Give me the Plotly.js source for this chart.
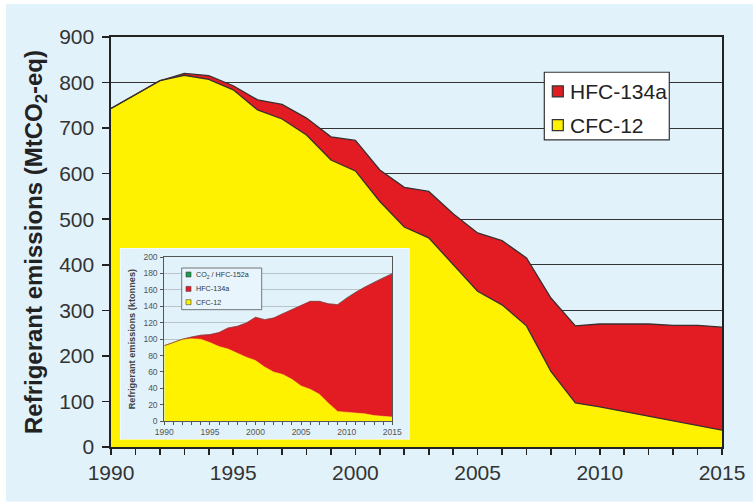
<!DOCTYPE html>
<html>
<head>
<meta charset="utf-8">
<script src="https://cdn.plot.ly/plotly-3.0.1.min.js"></script>
<style>html,body{margin:0;padding:0;background:#fff;}#chart{width:753px;height:503px;}</style>
</head>
<body>
<div id="chart"></div>
<script>
// ---------------- data ----------------
const years = [1990,1991,1992,1993,1994,1995,1996,1997,1998,1999,2000,2001,2002,2003,2004,2005,2006,2007,2008,2009,2010,2011,2012,2013,2014,2015];

// Main chart: emissions in MtCO2-eq
const cfc12Main   = [743,774,804,816,807,784,740,720,685,630,606,539,483,459,400,342,312,266,166,97,88,78,68,57,47,37];
const hfc134aMain = [0,0,0,4,8,9,22,32,37,51,67,69,87,102,112,128,141,149,161,169,182,192,202,210,220,226];

// Inset: emissions in ktonnes
const cfc12Inset   = [92,96,100,100.5,100,96,91,88,83,78,74,66,60,57,51,43,39,33,22,12,11,10,9,7,6,5];
const hfc134aInset = [0,0,0,2.1,4.7,9.5,17,25.6,32.6,41.7,52.6,57.7,65.8,74,85,97.8,107,113,121,130,139,147,154.5,162,168.4,174.7];
const co2Inset     = [0,0,0,0,0,0,0,0,0,0,0,0,0,0,0,0,0,0,0,0,0.3,0.3,0.3,0.3,0.3,0.3];

const mainNames  = ['HFC-134a','CFC-12'];
const insetNames = ['CO<sub>2</sub> / HFC-152a','HFC-134a','CFC-12'];

const mainTitle  = 'Refrigerant emissions (MtCO<sub>2</sub>-eq)';
const insetTitle = 'Refrigerant emissions (ktonnes)';

// ---------------- styling ----------------
const FONT = 'Liberation Sans, Arial, sans-serif';
const YELLOW = '#fff200';
const RED = '#e31b23';
const GREEN = '#1e9a4c';
const BG = '#e1f2fb';
const EDGE = '#3a2f2f';

const W = 753, H = 503;
const M = {l:111, r:31, t:37, b:55.5};
const PW = W - M.l - M.r, PH = H - M.t - M.b;
const px = x => (x - M.l) / PW;          // pixel -> paper x
const py = y => (H - M.b - y) / PH;      // pixel -> paper y

const traces = [
  {x: years, y: cfc12Main, name: 'CFC-12', type: 'scatter', mode: 'lines', stackgroup: 'main',
   fillcolor: YELLOW, line: {color: EDGE, width: 1.3}, xaxis: 'x', yaxis: 'y', hoverinfo: 'x+y+name'},
  {x: years, y: hfc134aMain, name: 'HFC-134a', type: 'scatter', mode: 'lines', stackgroup: 'main',
   fillcolor: RED, line: {color: EDGE, width: 1.3}, xaxis: 'x', yaxis: 'y', hoverinfo: 'x+y+name'},
  // empty subplot that carries the inset's background panel
  {x: [], y: [], type: 'scatter', mode: 'lines', xaxis: 'x2', yaxis: 'y2', hoverinfo: 'skip', showlegend: false},
  {x: years, y: cfc12Inset, name: 'CFC-12', type: 'scatter', mode: 'lines', stackgroup: 'inset',
   fillcolor: YELLOW, line: {color: YELLOW, width: 0.5}, xaxis: 'x3', yaxis: 'y3'},
  {x: years, y: hfc134aInset, name: 'HFC-134a', type: 'scatter', mode: 'lines', stackgroup: 'inset',
   fillcolor: RED, line: {color: '#c8161d', width: 0.6}, xaxis: 'x3', yaxis: 'y3'},
  {x: years, y: co2Inset, name: 'CO2 / HFC-152a', type: 'scatter', mode: 'lines', stackgroup: 'inset',
   fillcolor: GREEN, line: {color: '#555', width: 0.5}, xaxis: 'x3', yaxis: 'y3'}
];

// inset geometry (pixels)
const inPanel = {x0:120, x1:409.5, y0:248.3, y1:440};
const inPlot  = {x0:164.3, x1:392.3, y0:257.3, y1:421.7};

const layout = {
  width: W, height: H,
  margin: M,
  paper_bgcolor: '#ffffff',
  plot_bgcolor: 'rgba(0,0,0,0)',
  showlegend: false,
  font: {family: FONT, color: '#222'},
  xaxis: {
    range: [1990, 2015], tick0: 1990, dtick: 5, ticks: 'outside', ticklen: 6, tickwidth: 1.6, tickcolor: '#222',
    showline: true, linecolor: '#222', linewidth: 1.6, mirror: true, showgrid: false, zeroline: false,
    tickfont: {family: FONT, size: 21, color: '#333'},
    minor: {dtick: 1, ticks: 'outside', ticklen: 6, tickwidth: 1.6, tickcolor: '#222', showgrid: false},
    fixedrange: true, anchor: 'y'
  },
  yaxis: {
    range: [0, 900], dtick: 100, ticks: 'outside', ticklen: 7, tickwidth: 1.6, tickcolor: '#222',
    showline: true, linecolor: '#222', linewidth: 1.6, mirror: true,
    showgrid: true, gridcolor: '#333', gridwidth: 1, zeroline: false,
    tickfont: {family: FONT, size: 21, color: '#333'}, ticklabelstandoff: 4,
    title: {text: '<b>' + mainTitle + '</b>', font: {family: FONT, size: 24, color: '#222'}, standoff: 10},
    fixedrange: true, anchor: 'x'
  },
  xaxis2: {domain: [px(inPanel.x0), px(inPanel.x1)], range: [0, 1], visible: false, anchor: 'y2', fixedrange: true},
  yaxis2: {domain: [py(inPanel.y1), py(inPanel.y0)], range: [0, 1], visible: false, anchor: 'x2', fixedrange: true},
  xaxis3: {
    domain: [px(inPlot.x0), px(inPlot.x1)], anchor: 'y3',
    range: [1990, 2015], tick0: 1990, dtick: 5, ticks: 'outside', ticklen: 3, tickwidth: 1, tickcolor: '#555',
    showline: true, linecolor: '#555', linewidth: 1, mirror: true, showgrid: false, zeroline: false,
    tickfont: {family: FONT, size: 8.5, color: '#555'},
    minor: {dtick: 1, ticks: 'outside', ticklen: 3, tickwidth: 1, tickcolor: '#555', showgrid: false},
    fixedrange: true
  },
  yaxis3: {
    domain: [py(inPlot.y1), py(inPlot.y0)], anchor: 'x3',
    range: [0, 200], dtick: 20, ticks: 'outside', ticklen: 3, tickwidth: 1, tickcolor: '#555',
    showline: true, linecolor: '#555', linewidth: 1, mirror: true,
    showgrid: true, gridcolor: '#b9c3ca', gridwidth: 1, zeroline: false,
    tickfont: {family: FONT, size: 8.5, color: '#555'}, ticklabelstandoff: 1,
    title: {text: '<b>' + insetTitle + '</b>', font: {family: FONT, size: 9.2, color: '#444'}, standoff: 6},
    fixedrange: true
  },
  shapes: [],
  annotations: []
};

// page background with thin white edge
layout.shapes.push({type: 'rect', xref: 'paper', yref: 'paper', layer: 'below',
  x0: px(6), x1: px(W), y0: py(H - 1), y1: py(4), fillcolor: BG, line: {width: 0}});
// inset background panel (drawn in its own subplot, above the main areas)
layout.shapes.push({type: 'rect', xref: 'x2', yref: 'y2', layer: 'below',
  x0: 0, x1: 1, y0: 0, y1: 1, fillcolor: BG, line: {color: '#f4fbff', width: 1.5}});

// main legend
const mainLeg = {x0: 544.3, x1: 669.3, y0: 72.3, y1: 140, sq: 11, sqx: 552.3, tx: 568.3, rows: [91.5, 125.3]};
const mainColors = [RED, YELLOW];
layout.shapes.push({type: 'rect', xref: 'paper', yref: 'paper', layer: 'above',
  x0: px(mainLeg.x0), x1: px(mainLeg.x1), y0: py(mainLeg.y1), y1: py(mainLeg.y0),
  fillcolor: '#ffffff', line: {color: '#333', width: 1.2}});
mainNames.forEach((n, i) => {
  const cy = mainLeg.rows[i];
  layout.shapes.push({type: 'rect', xref: 'paper', yref: 'paper', layer: 'above',
    x0: px(mainLeg.sqx), x1: px(mainLeg.sqx + mainLeg.sq), y0: py(cy + mainLeg.sq / 2), y1: py(cy - mainLeg.sq / 2),
    fillcolor: mainColors[i], line: {color: '#333', width: 1.2}});
  layout.annotations.push({xref: 'paper', yref: 'paper', x: px(mainLeg.tx), y: py(cy), xanchor: 'left', yanchor: 'middle',
    text: n, showarrow: false, font: {family: FONT, size: 21, color: '#222'}});
});

// inset legend
const inLeg = {x0: 181.7, x1: 261.7, y0: 268.3, y1: 310, sq: 5, sqx: 186, tx: 193.5, rows: [274.8, 289.2, 302.5]};
const inColors = [GREEN, RED, YELLOW];
layout.shapes.push({type: 'rect', xref: 'paper', yref: 'paper', layer: 'above',
  x0: px(inLeg.x0), x1: px(inLeg.x1), y0: py(inLeg.y1), y1: py(inLeg.y0),
  fillcolor: '#e8f5fc', line: {color: '#555', width: 0.8}});
insetNames.forEach((n, i) => {
  const cy = inLeg.rows[i];
  layout.shapes.push({type: 'rect', xref: 'paper', yref: 'paper', layer: 'above',
    x0: px(inLeg.sqx), x1: px(inLeg.sqx + inLeg.sq), y0: py(cy + inLeg.sq / 2), y1: py(cy - inLeg.sq / 2),
    fillcolor: inColors[i], line: {color: '#444', width: 0.6}});
  layout.annotations.push({xref: 'paper', yref: 'paper', x: px(inLeg.tx), y: py(cy), xanchor: 'left', yanchor: 'middle',
    text: n, showarrow: false, font: {family: FONT, size: 7.2, color: '#333'}});
});

Plotly.newPlot('chart', traces, layout, {displayModeBar: false, staticPlot: true});
</script>
</body>
</html>
